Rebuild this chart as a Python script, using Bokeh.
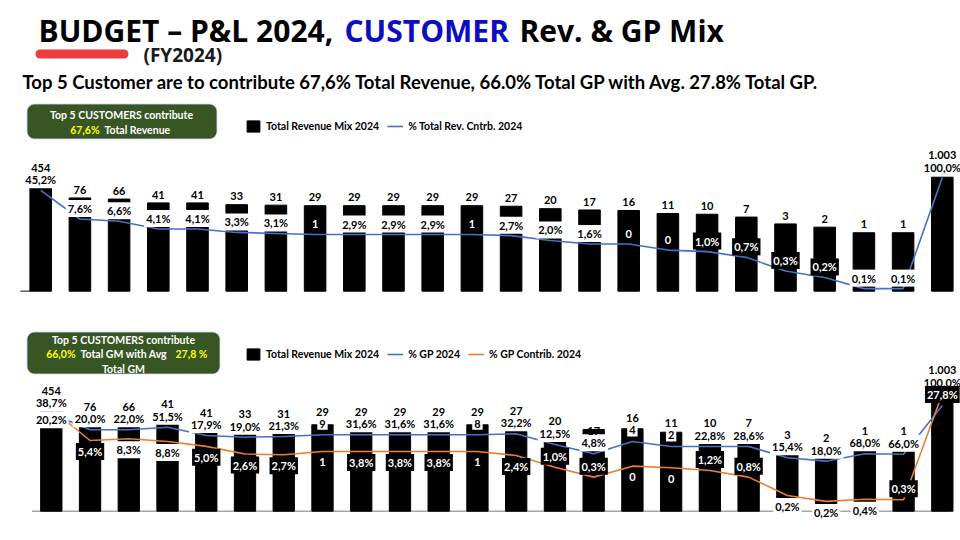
import math
from bokeh.plotting import figure
from bokeh.models import (Range1d, LogScale, ColumnDataSource, Legend, LegendItem,
                          Label, BoxAnnotation)
from bokeh.layouts import column
from bokeh.core.properties import value
from bokeh.embed import file_html
from bokeh.resources import INLINE

# ---------------------------------------------------------------- data
customers = ["C01", "C02", "C03", "C04", "C05", "C06", "C07", "C08", "C09", "C10",
             "C11", "C12", "C13", "C14", "C15", "C16", "C17", "C18", "C19", "C20",
             "C21", "C22", "C23", "Total"]

# upper panel: revenue (bars) and % of total revenue (line)
revenue = [454, 76, 66, 41, 41, 33, 31, 29, 29, 29, 29, 29, 27, 20, 17, 16, 11, 10,
           7, 3, 2, 1, 1, 1003]
revenue_labels = ["454", "76", "66", "41", "41", "33", "31", "29", "29", "29", "29",
                  "29", "27", "20", "17", "16", "11", "10", "7", "3", "2", "1", "1",
                  "1.003"]
rev_share_pct = [45.2, 7.6, 6.6, 4.1, 4.1, 3.3, 3.1, 2.9, 2.9, 2.9, 2.9, 2.9, 2.7,
                 2.0, 1.6, 1.6, 1.1, 1.0, 0.7, 0.3, 0.2, 0.1, 0.1, 100.0]
rev_share_labels = ["45,2%", "7,6%", "6,6%", "4,1%", "4,1%", "3,3%", "3,1%", "1",
                    "2,9%", "2,9%", "2,9%", "1", "2,7%", "2,0%", "1,6%", "0", "0",
                    "1,0%", "0,7%", "0,3%", "0,2%", "0,1%", "0,1%", "100,0%"]

# lower panel: bars as drawn, % GP line, % GP contribution line
bottom_bar_values = [209, 19.3, 17.2, 28.2, 8.9, 8.3, 8.9, 20.9, 11.2, 11.2, 11.2,
                     20.9, 9.7, 3.2, 12.2, 13.2, 8.9, 3.2, 2.7, 0.66, 0.5, 1.08,
                     1.0, 1050]
gp_line_values = [176, 22.7, 22.7, 31.6, 10.9, 8.8, 9.6, 12, 12, 12, 12, 12, 13.6,
                  3.5, 1.05, 5.1, 2.7, 2.7, 2.7, 0.63, 0.41, 1.05, 1.0, 508]
gp_contrib_values = [36.1, 5.4, 6.0, 5.1, 3.8, 2.4, 2.3, 2.8, 2.8, 2.8, 2.8, 2.8,
                     2.2, 1.09, 0.6, 1.16, 1.05, 0.89, 0.6, 0.2, 0.14, 0.16, 0.155,
                     88.7]
gp_labels = ["38,7%", "20,0%", "22,0%", "51,5%", "17,9%", "19,0%", "21,3%", "9",
             "31,6%", "31,6%", "31,6%", "8", "32,2%", "12,5%", "4,8%", "4", "2",
             "22,8%", "28,6%", "15,4%", "18,0%", "68,0%", "66,0%", "27,8%"]
gp_contrib_labels = ["20,2%", "5,4%", "8,3%", "8,8%", "5,0%", "2,6%", "2,7%", "1",
                     "3,8%", "3,8%", "3,8%", "1", "2,4%", "1,0%", "0,3%", "0", "0",
                     "1,2%", "0,8%", "0,2%", "0,2%", "0,4%", "0,3%", "100,0%"]

# ---------------------------------------------------------------- styles
FONT = "Lato"
W = 960
HEAD_H, TOP_H, BOT_H = 100, 200, 236
BLUE = "#4472C4"
ORANGE = "#ED7D31"
GREEN = "#375623"
GREEN_EDGE = "#2B3D50"
YELLOW = "#FFFF00"

n = len(customers)
xs = list(range(n))

top_dark = {7, 11, 15, 16, 17, 18, 19, 20}
gp_dark = {n - 1}
contrib_light = {0, 2, 3, 19, 20, 21, n - 1}
contrib_above = {13, 14, 17, 18, 22, n - 1}


def x_range(first_px, step, width):
    return Range1d(-first_px / step, (width - first_px) / step)


def log_range(anchor_value, anchor_px, px_per_dec, height):
    lo = math.log10(anchor_value) - anchor_px / px_per_dec
    return Range1d(10 ** lo, 10 ** (lo + height / px_per_dec))


def base_fig(h, xr, yr):
    p = figure(width=W, height=h, x_range=xr, y_range=yr, y_axis_type="log",
               x_axis_location=None, y_axis_location=None,
               toolbar_location=None, output_backend="svg", min_border=0)
    p.outline_line_color = None
    p.grid.visible = False
    p.background_fill_color = "white"
    return p


def add_text(p, idx, ys, texts, offsets, dark=False, boxed=True, rng="default",
             size="11px"):
    if not idx:
        return
    src = ColumnDataSource(dict(x=[xs[i] for i in idx], y=[ys[i] for i in idx],
                                t=[texts[i] for i in idx],
                                off=[offsets[i] for i in idx]))
    kw = {}
    if boxed:
        kw = dict(background_fill_color="black" if dark else "white", padding=2)
    p.text(x="x", y="y", text="t", y_offset="off", source=src, y_range_name=rng,
           text_align="center", text_baseline="middle", text_font=value(FONT),
           text_font_style="bold", text_font_size=size,
           text_color="white" if dark else "black", **kw)


def green_box(p, left, right, top, bottom):
    p.add_layout(BoxAnnotation(left=left, right=right, top=top, bottom=bottom,
                               left_units="screen", right_units="screen",
                               top_units="screen", bottom_units="screen",
                               fill_color=GREEN, fill_alpha=1, line_color=GREEN_EDGE,
                               line_width=1.5, border_radius=7))


def box_text(p, x, y, text, color="white", align="center"):
    p.add_layout(Label(x=x, y=y, x_units="screen", y_units="screen", text=text,
                       text_align=align, text_baseline="middle", text_color=color,
                       text_font=FONT, text_font_style="bold",
                       text_font_size="10.5px"))


def legend(p, items, x, y):
    lg = Legend(items=items, location=(x, y), orientation="horizontal",
                glyph_width=16, glyph_height=14, label_height=14, label_standoff=5,
                spacing=8, padding=0, margin=0, border_line_color=None,
                background_fill_alpha=0, label_text_font=FONT,
                label_text_font_style="bold", label_text_font_size="10.5px",
                label_text_color="black")
    p.add_layout(lg)


# ---------------------------------------------------------------- header
head = figure(width=W, height=HEAD_H, x_range=Range1d(0, W), y_range=Range1d(0, HEAD_H),
              x_axis_location=None, y_axis_location=None, toolbar_location=None,
              output_backend="svg", min_border=0)
head.outline_line_color = None
head.grid.visible = False
for tx, x, col in (("BUDGET \u2013 P&L 2024,", 38, "black"), ("CUSTOMER", 344, "#0D0DC2"),
                   ("Rev. & GP Mix", 519, "black")):
    head.add_layout(Label(x=x, y=70, text=tx, text_font="Open Sans",
                          text_font_style="bold", text_font_size="30px",
                          text_color=col, text_baseline="middle"))
head.segment(x0=39.5, x1=123.5, y0=46.5, y1=46.5, line_width=9, line_cap="round",
             line_color="#EE3B3B")
head.add_layout(Label(x=143, y=46, text="(FY2024)", text_font="Open Sans",
                      text_font_style="bold", text_font_size="19px",
                      text_color="#1a1a1a", text_baseline="middle"))
head.add_layout(Label(x=22, y=19, text="Top 5 Customer are to contribute 67,6% Total "
                      "Revenue, 66.0% Total GP with Avg. 27.8% Total GP.",
                      text_font=FONT, text_font_style="bold", text_font_size="18.5px",
                      text_color="black", text_baseline="middle"))

# ---------------------------------------------------------------- upper panel
TOP_BASE = 10 ** -3.16
top = base_fig(TOP_H, x_range(40.2, 39.2, W), log_range(TOP_BASE, 9.3, 18.5, TOP_H))
top.extra_y_ranges = {"pct": log_range(2.9, 66, 37, TOP_H)}
top.extra_y_scales = {"pct": LogScale()}

src_top = ColumnDataSource(dict(x=xs, rev=revenue, pct=rev_share_pct))
# short baseline stub left of the first bar
top.segment(x0=-0.52, x1=-0.27, y0=TOP_BASE, y1=TOP_BASE, line_color="#404040",
            line_width=1.2)
r_bar = top.vbar(x="x", top="rev", bottom=TOP_BASE, width=0.55, color="black",
                 source=src_top)
r_line = top.line(x="x", y="pct", y_range_name="pct", line_color=BLUE, line_width=1.6,
                  source=src_top)

pct_off = [-10.5] * n
add_text(top, [i for i in xs if i not in top_dark], rev_share_pct, rev_share_labels,
         pct_off, rng="pct")
add_text(top, [i for i in xs if i in top_dark], rev_share_pct, rev_share_labels,
         pct_off, dark=True, rng="pct")
# value labels: on the bar end, or stacked above the line label where it sits higher
stacked = [0, n - 1]
add_text(top, [i for i in xs if i not in stacked], revenue, revenue_labels,
         [-8.4] * n, boxed=False)
add_text(top, stacked, rev_share_pct, revenue_labels, [-22.5] * n, boxed=False,
         rng="pct")

green_box(top, 27, 216, 196, 162)
box_text(top, 121, 186, "Top 5 CUSTOMERS contribute")
box_text(top, 99, 171, "67,6%", color=YELLOW, align="right")
box_text(top, 104, 171, "Total Revenue", align="left")
legend(top, [LegendItem(label="Total Revenue Mix 2024", renderers=[r_bar]),
             LegendItem(label="% Total Rev. Cntrb. 2024", renderers=[r_line])], 245, 167)

# ---------------------------------------------------------------- lower panel
BOT_BASE = 0.001
bot = base_fig(BOT_H, x_range(50.8, 38.74, W), log_range(BOT_BASE, 25.3, 20, BOT_H))
bot.extra_y_ranges = {"gp": log_range(1.0, 82.3, 18, BOT_H),
                      "contrib": log_range(5.4, 96, 38.4, BOT_H)}
bot.extra_y_scales = {"gp": LogScale(), "contrib": LogScale()}

src_bot = ColumnDataSource(dict(x=xs, bar=bottom_bar_values, gp=gp_line_values,
                                gc=gp_contrib_values))
bot.segment(x0=-0.5, x1=n - 0.8, y0=BOT_BASE, y1=BOT_BASE, line_color="#A6A6A6",
            line_width=1.5)
b_bar = bot.vbar(x="x", top="bar", bottom=BOT_BASE, width=0.55, color="black",
                 source=src_bot)
b_gp = bot.line(x="x", y="gp", y_range_name="gp", line_color=BLUE, line_width=1.6,
                source=src_bot)
b_gc = bot.line(x="x", y="gc", y_range_name="contrib", line_color=ORANGE,
                line_width=1.6, source=src_bot)

gc_off = [-11 if i in contrib_above else 11 for i in xs]
add_text(bot, [i for i in xs if i in contrib_light], gp_contrib_values,
         gp_contrib_labels, gc_off, rng="contrib")
add_text(bot, [i for i in xs if i not in contrib_light], gp_contrib_values,
         gp_contrib_labels, gc_off, dark=True, rng="contrib")
gp_off = [-11] * n
add_text(bot, [i for i in xs if i not in gp_dark], gp_line_values, gp_labels, gp_off,
         rng="gp")
add_text(bot, [i for i in xs if i in gp_dark], gp_line_values, gp_labels, gp_off,
         dark=True, rng="gp")
rev_off = [-35 if i == n - 1 else -23 for i in xs]
add_text(bot, xs, gp_line_values, revenue_labels, rev_off, boxed=False, rng="gp")

green_box(bot, 27, 219, 204, 163)
box_text(bot, 123, 197, "Top 5 CUSTOMERS contribute")
box_text(bot, 75, 183, "66,0%", color=YELLOW, align="right")
box_text(bot, 80, 183, "Total GM with Avg", align="left")
box_text(bot, 175, 183, "27,8 %", color=YELLOW, align="left")
box_text(bot, 123, 168, "Total GM")
legend(bot, [LegendItem(label="Total Revenue Mix 2024", renderers=[b_bar]),
             LegendItem(label="% GP 2024", renderers=[b_gp]),
             LegendItem(label="% GP Contrib. 2024", renderers=[b_gc])], 245, 175)

layout = column(head, top, bot, spacing=0)
open("out.html", "w").write(file_html(layout, INLINE))
